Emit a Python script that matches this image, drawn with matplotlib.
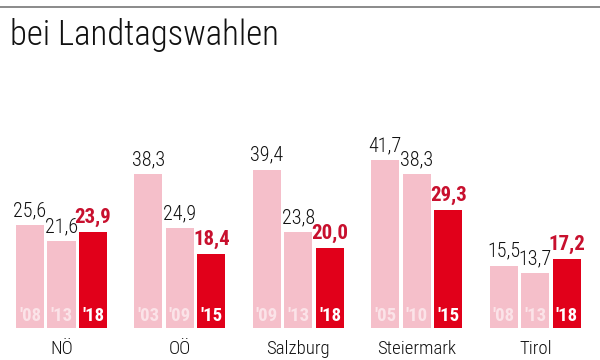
import matplotlib
matplotlib.use("Agg")
import matplotlib.pyplot as plt
from matplotlib import font_manager

states = ["NÖ", "OÖ", "Salzburg", "Steiermark", "Tirol"]
years = [["'08", "'13", "'18"], ["'03", "'09", "'15"], ["'09", "'13", "'18"],
         ["'05", "'10", "'15"], ["'08", "'13", "'18"]]
values = [[25.6, 21.6, 23.9], [38.3, 24.9, 18.4], [39.4, 23.8, 20.0],
          [41.7, 38.3, 29.3], [15.5, 13.7, 17.2]]
title = "bei Landtagswahlen"

names = {f.name for f in font_manager.fontManager.ttflist}
fam = "DejaVu Sans"
for cand in ["Roboto Condensed", "Fira Sans Condensed", "Barlow Condensed",
             "Asap Condensed", "Archivo Narrow"]:
    if cand in names:
        fam = cand
        break
plt.rcParams['font.family'] = [fam, 'DejaVu Sans']

PINK = "#f5bfca"
RED = "#e1001a"
LABRED = "#c8102e"
YEARPINK = "#fbe3e8"

fig = plt.figure(figsize=(6, 3.6), dpi=100)
ax = fig.add_axes([0, 0, 1, 1])
ax.set_xlim(-0.952, 18.095)
ax.set_ylim(-7.96, 81.6)
ax.axis("off")

gstep = 3.76
w = 0.89
for i, (st, yrs, vals) in enumerate(zip(states, years, values)):
    for j, (yr, v) in enumerate(zip(yrs, vals)):
        x = i * gstep + j
        last = j == 2
        ax.bar(x, v, width=w, color=RED if last else PINK, linewidth=0)
        ax.text(x, v + 1.2, f"{v:.1f}".replace(".", ","), ha="center", va="bottom",
                fontsize=15 if last else 14.5, color=LABRED if last else "#111111",
                fontweight="bold" if last else "light")
        ax.text(x, 3.0, yr, ha="center", va="center", fontsize=13.5,
                fontweight="bold", color="white" if last else YEARPINK)
    ax.text(i * gstep + 1, -5.3, st, ha="center", va="center", fontsize=13.5,
            color="#111111", fontweight="light")

fig.add_artist(plt.Line2D([0, 1], [1 - 7 / 360, 1 - 7 / 360], color="#777777",
                          linewidth=1.2, transform=fig.transFigure))
fig.text(10 / 600, 1 - 35 / 360, title, ha="left", va="center", fontsize=25,
         color="#111111", fontweight="light")

fig.savefig("out.png", dpi=100)
